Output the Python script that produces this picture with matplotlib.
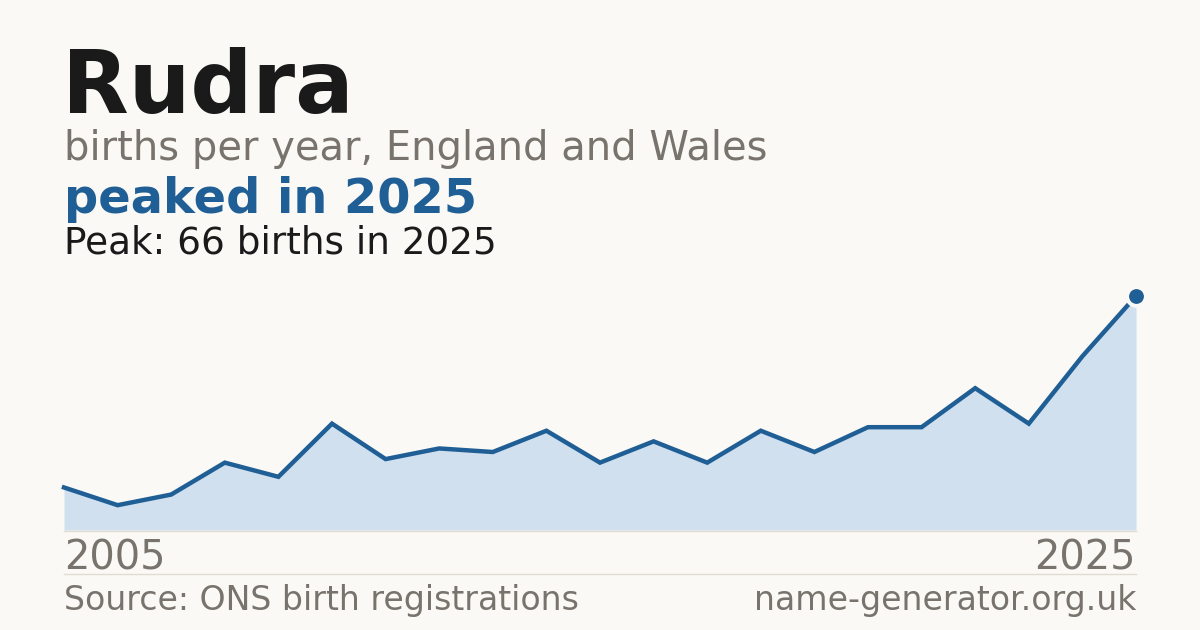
import numpy as np
import matplotlib.pyplot as plt

plt.rcParams['font.family'] = ['DejaVu Sans']

# data
years = list(range(2005, 2026))
births = [12, 7, 10, 19, 15, 30, 20, 23, 22, 28, 19, 25, 19, 28, 22, 29, 29, 40, 30, 49, 66]

name = "Rudra"
subtitle = "births per year, England and Wales"
headline = "peaked in 2025"
peak_note = "Peak: 66 births in 2025"
source = "Source: ONS birth registrations"
site = "name-generator.org.uk"

bg = "#faf9f5"
blue = "#1f5f96"
fill_blue = "#d0e0ef"
grey = "#78736c"
dark = "#1a1a1a"
rule = "#e0dcd4"

W, H = 1200, 630
fig = plt.figure(figsize=(W / 100, H / 100), dpi=100, facecolor=bg)


def fx(px):
    return px / W


def fy(py):
    return 1 - py / H


# plot area: x 64..1136, baseline at y=530, peak point at y=296
top_px = 270
ax = fig.add_axes([fx(64), fy(530), fx(1136 - 64), (530 - top_px) / H])
ax.set_facecolor(bg)
peak = max(births)
ax.set_xlim(years[0], years[-1])
ax.set_ylim(0, peak * (530 - top_px) / (530 - 296))
ax.fill_between(years, births, 0, color=fill_blue, lw=0)
ax.plot(years, births, color=blue, lw=3.2, solid_joinstyle="miter", clip_on=False)
ax.plot(years[-1], births[-1], "o", ms=13.5, color=blue, mec=bg, mew=2.8, clip_on=False, zorder=5)
ax.axis("off")

# rules
fig.add_artist(plt.Line2D([fx(64), fx(1136)], [fy(530.5), fy(530.5)], color=rule, lw=1))
fig.add_artist(plt.Line2D([fx(64), fx(1136)], [fy(574), fy(574)], color=rule, lw=1))

# texts
fig.text(fx(62), fy(113), name, fontsize=62.5, fontweight="bold", color=dark, va="baseline")
fig.text(fx(64), fy(160), subtitle, fontsize=28.8, color=grey, va="baseline")
fig.text(fx(64), fy(213), headline, fontsize=34.5, fontweight="bold", color=blue, va="baseline")
fig.text(fx(64), fy(253), peak_note, fontsize=26.9, color=dark, va="baseline")
fig.text(fx(64), fy(570), str(years[0]), fontsize=28.7, color=grey, va="baseline")
fig.text(fx(1136), fy(570), str(years[-1]), fontsize=28.7, color=grey, va="baseline", ha="right")
fig.text(fx(64), fy(610), source, fontsize=23.9, color=grey, va="baseline")
fig.text(fx(1136), fy(610), site, fontsize=23.9, color=grey, va="baseline", ha="right")

fig.savefig("out.png", dpi=100, facecolor=bg)
